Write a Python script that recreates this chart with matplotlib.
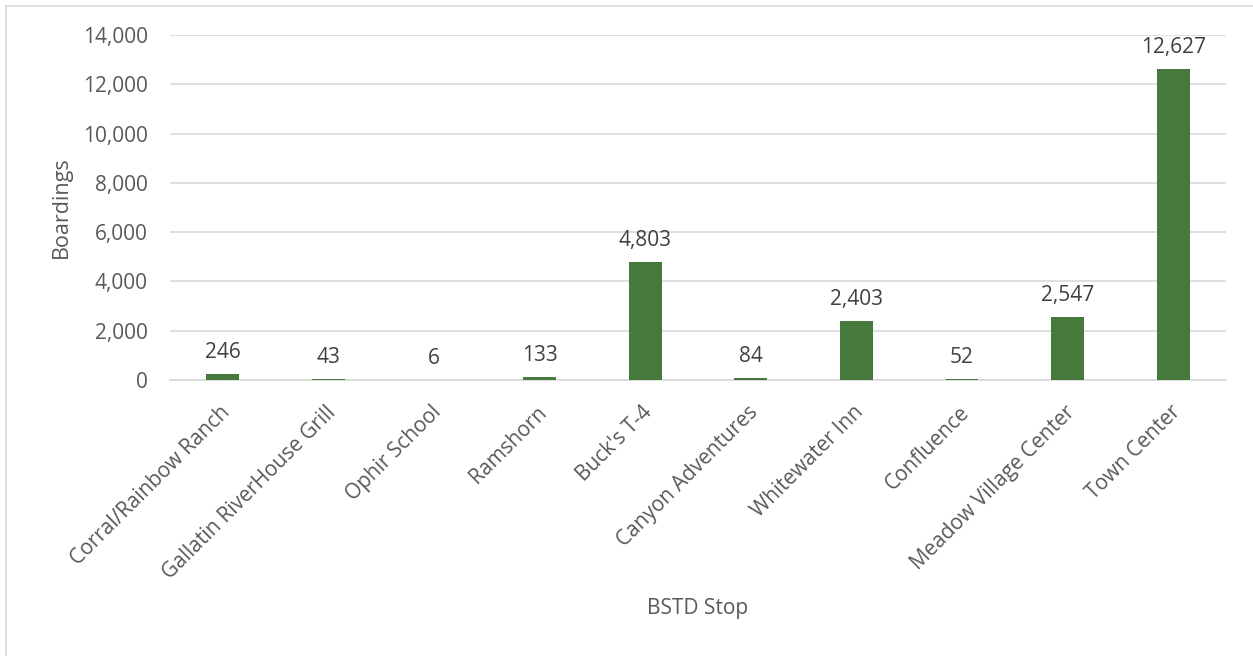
import matplotlib.pyplot as plt
import matplotlib.transforms as mtransforms
from matplotlib.patches import Rectangle

stops = ['Corral/Rainbow Ranch', 'Gallatin RiverHouse Grill', 'Ophir School', 'Ramshorn',
         "Buck's T-4", 'Canyon Adventures', 'Whitewater Inn', 'Confluence',
         'Meadow Village Center', 'Town Center']
boardings = [246, 43, 6, 133, 4803, 84, 2403, 52, 2547, 12627]
y_ticks = [0, 2000, 4000, 6000, 8000, 10000, 12000, 14000]

bar_color = '#467a3c'
grid_color = '#d9d9d9'
tick_color = '#595959'
label_color = '#404040'

plt.rcParams['font.family'] = ['Open Sans', 'DejaVu Sans']

fig = plt.figure(figsize=(12.53, 6.56), dpi=100)
ax = fig.add_axes([0.1357, 0.4207, 0.8428, 0.5259])

# light frame round the whole chart area
fig.patches.append(Rectangle((6 / 1253, -0.1), 1.2, 1 - 6 / 656 + 0.1,
                             transform=fig.transFigure, fill=False,
                             edgecolor=grid_color, linewidth=1.2))

x = list(range(len(stops)))
ax.bar(x, boardings, width=0.31, color=bar_color, zorder=3)

for xi, v in zip(x, boardings):
    ax.annotate(f'{v:,}', (xi, v), xytext=(0, 8), textcoords='offset points',
                ha='center', va='bottom', fontsize=15, color=label_color)

ax.set_xlim(-0.5, len(stops) - 0.5)
ax.set_ylim(0, 14000)
ax.set_yticks(y_ticks)
ax.set_yticklabels([f'{t:,}' for t in y_ticks], fontsize=15, color=tick_color)
ax.set_xticks(x)
ax.set_xticklabels(stops, rotation=45, ha='right', va='center', rotation_mode='anchor',
                   fontsize=15, color=tick_color)
ax.tick_params(axis='both', length=0)
ax.tick_params(axis='y', pad=16)
ax.tick_params(axis='x', pad=21)

# nudge the slanted stop names a little to the right
shift = mtransforms.ScaledTranslation(3 / 72, 0, fig.dpi_scale_trans)
for lbl in ax.get_xticklabels():
    lbl.set_transform(lbl.get_transform() + shift)

ax.grid(axis='y', color=grid_color, linewidth=1.2, zorder=0)
for side in ['top', 'right', 'left']:
    ax.spines[side].set_visible(False)
ax.spines['bottom'].set_color(grid_color)
ax.spines['bottom'].set_linewidth(1.2)

ax.set_ylabel('Boardings', fontsize=15.5, color=tick_color, labelpad=8)
fig.text(0.557, 0.073, 'BSTD Stop', ha='center', va='center', fontsize=15, color=tick_color)

fig.savefig('out.png', dpi=100)
